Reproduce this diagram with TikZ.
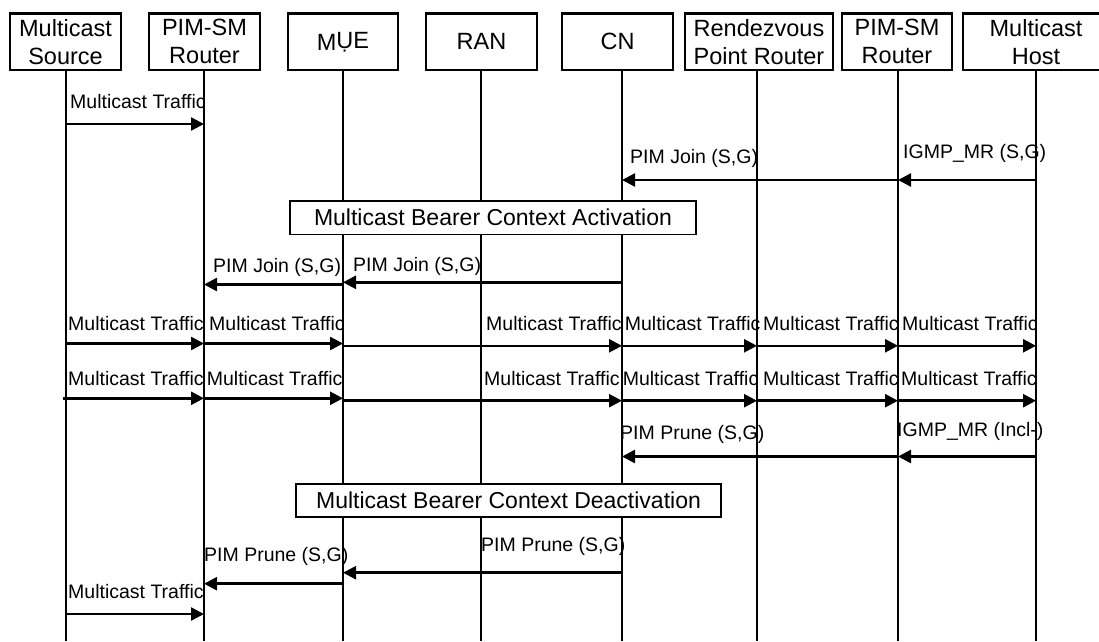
\documentclass[tikz,border=0pt]{standalone}
\usepackage{fontspec}
\setmainfont{Liberation Sans}
\usetikzlibrary{arrows.meta}
\begin{document}
\begin{tikzpicture}[x=1pt,y=-1pt,
  hdr/.style={draw, line width=2.5pt, minimum height=56.5pt, inner sep=0pt, align=center, font=\fontsize{23.5}{28}\selectfont},
  life/.style={line width=2.2pt},
  msg/.style={line width=2.5pt, -{Triangle[length=13pt,width=13pt]}},
  lbl/.style={anchor=base west, inner sep=0pt, font=\fontsize{19.5}{22}\selectfont},
  phase/.style={draw, line width=1.5pt, fill=white, inner sep=0pt, font=\fontsize{23}{26}\selectfont}]
\useasboundingbox (0,0) rectangle (1099,641);
\fill[white] (0,0) rectangle (1099,641);

% headers
\node[hdr, minimum width=111pt] (hS)  at (65.5,41.75)  {Multicast\\Source};
\node[hdr, minimum width=111pt] (hP1) at (204.5,41.75) {PIM-SM\\Router};
\node[hdr, minimum width=110pt] (hM)  at (343,41.75)   {M\raisebox{2pt}{ỤE}};
\node[hdr, minimum width=111pt] (hR)  at (481.5,41.75) {RAN};
\node[hdr, minimum width=111pt] (hC)  at (617.5,41.75) {CN};
\node[hdr, minimum width=148pt] (hRP) at (759,41.75)   {Rendezvous\\Point Router};
\node[hdr, minimum width=110pt] (hP2) at (897,41.75)   {PIM-SM\\Router};
\node[hdr, minimum width=146pt] (hH)  at (1036,41.75)  {Multicast\\Host};

% lifelines
\coordinate (S)  at (66,70);   \coordinate (Sb)  at (66,641);
\coordinate (P1) at (204,70);  \coordinate (P1b) at (204,641);
\coordinate (M)  at (343,70);  \coordinate (Mb)  at (343,641);
\coordinate (R)  at (481,70);  \coordinate (Rb)  at (481,641);
\coordinate (C)  at (622,70);  \coordinate (Cb)  at (622,641);
\coordinate (RP) at (757,70);  \coordinate (RPb) at (757,641);
\coordinate (P2) at (898,70);  \coordinate (P2b) at (898,641);
\coordinate (H)  at (1036,70); \coordinate (Hb)  at (1036,641);
\foreach \a in {S,P1,M,R,C,RP,P2,H} \draw[life] (\a) -- (\a b);

% message rows
\coordinate (y1) at (0,124);
\coordinate (y2) at (0,180);
\coordinate (y3) at (0,282.3);
\coordinate (y4) at (0,284.5);
\coordinate (y5) at (0,343.5);
\coordinate (y6) at (0,345.8);
\coordinate (y7) at (0,398.3);
\coordinate (y8) at (0,400.7);
\coordinate (y9) at (0,456.5);
\coordinate (y10) at (0,572.7);
\coordinate (y11) at (0,583.7);
\coordinate (y12) at (0,614);

% phase boxes
\node[phase, minimum width=406pt, minimum height=33.5pt] (act) at (493,217.7) {Multicast Bearer Context Activation};
\node[phase, minimum width=425pt, minimum height=32.7pt] (deact) at (508.5,500.4) {Multicast Bearer Context Deactivation};

% arrows
\draw[msg] (S |- y1) -- (P1 |- y1);
\draw[msg] (H |- y2) -- (P2 |- y2);
\draw[msg] (P2 |- y2) -- (C |- y2);
\draw[msg] (C |- y3) -- (M |- y3);
\draw[msg] (M |- y4) -- (P1 |- y4);
\draw[msg] (S |- y5) -- (P1 |- y5);
\draw[msg] (P1 |- y5) -- (M |- y5);
\draw[msg] (M |- y6) -- (C |- y6);
\draw[msg] (C |- y6) -- (RP |- y6);
\draw[msg] (RP |- y6) -- (P2 |- y6);
\draw[msg] (P2 |- y6) -- (H |- y6);
\draw[msg] ([xshift=-3.5pt]S |- y7) -- (P1 |- y7);
\draw[msg] (P1 |- y7) -- (M |- y7);
\draw[msg] (M |- y8) -- (C |- y8);
\draw[msg] (C |- y8) -- (RP |- y8);
\draw[msg] (RP |- y8) -- (P2 |- y8);
\draw[msg] (P2 |- y8) -- (H |- y8);
\draw[msg] (H |- y9) -- (P2 |- y9);
\draw[msg] (P2 |- y9) -- (C |- y9);
\draw[msg] (C |- y10) -- (M |- y10);
\draw[msg] (M |- y11) -- (P1 |- y11);
\draw[msg] (S |- y12) -- (P1 |- y12);

% labels
\node[lbl] (l1)  at (70,108)    {Multicast Traffic};
\node[lbl] (l2)  at (903,158)   {IGMP\_MR (S,G)};
\node[lbl] (l3)  at (630,163)   {PIM Join (S,G)};
\node[lbl] (l4)  at (353,271)   {PIM Join (S,G)};
\node[lbl] (l5)  at (213,272.3) {PIM Join (S,G)};
\node[lbl] (l6)  at (68,330)    {Multicast Traffic};
\node[lbl] (l7)  at (209,330)   {Multicast Traffic};
\node[lbl] (l8)  at (486,330)   {Multicast Traffic};
\node[lbl] (l9)  at (624.7,330) {Multicast Traffic};
\node[lbl] (l10) at (763,330)   {Multicast Traffic};
\node[lbl] (l11) at (902,330)   {Multicast Traffic};
\node[lbl] (l12) at (68,385)    {Multicast Traffic};
\node[lbl] (l13) at (206.7,385) {Multicast Traffic};
\node[lbl] (l14) at (484,385)   {Multicast Traffic};
\node[lbl] (l15) at (622.6,385) {Multicast Traffic};
\node[lbl] (l16) at (763,385)   {Multicast Traffic};
\node[lbl] (l17) at (901,385)   {Multicast Traffic};
\node[lbl] (l18) at (620,439.3) {PIM Prune (S,G)};
\node[lbl] (l19) at (897,436)   {IGMP\_MR (Incl-)};
\node[lbl] (l20) at (481,551)   {PIM Prune (S,G)};
\node[lbl] (l21) at (204,561.7) {PIM Prune (S,G)};
\node[lbl] (l22) at (68,598)    {Multicast Traffic};
\end{tikzpicture}
\end{document}
